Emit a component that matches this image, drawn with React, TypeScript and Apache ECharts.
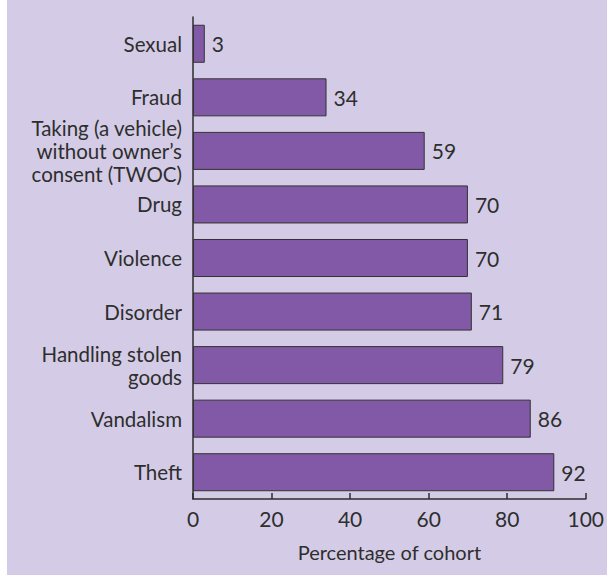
import React, { useEffect, useRef } from "react";
import * as echarts from "echarts";

const categories = [
  "Sexual",
  "Fraud",
  "Taking (a vehicle)\nwithout owner’s\nconsent (TWOC)",
  "Drug",
  "Violence",
  "Disorder",
  "Handling stolen\ngoods",
  "Vandalism",
  "Theft",
];
const values = [3, 34, 59, 70, 70, 71, 79, 86, 92];
const xTicks = [0, 20, 40, 60, 80, 100];

const FONT = "Lato";
const TEXT = "#2e2e2e";

export default function App() {
  const ref = useRef<HTMLDivElement>(null);
  useEffect(() => {
    const chart = echarts.init(ref.current!, null, { renderer: "svg" });
    chart.setOption({
      animation: false,
      backgroundColor: "#d4cce6",
      grid: { left: 186, right: 21, top: 17, bottom: 76, containLabel: false },
      xAxis: {
        type: "value",
        min: xTicks[0],
        max: xTicks[xTicks.length - 1],
        interval: 20,
        name: "Percentage of cohort",
        nameLocation: "middle",
        nameGap: 43,
        nameTextStyle: { fontFamily: FONT, fontSize: 20, color: TEXT },
        axisLine: { show: true, lineStyle: { color: TEXT, width: 1.5 } },
        axisTick: { show: true, inside: true, length: 6, lineStyle: { color: TEXT, width: 1.5 } },
        axisLabel: { fontFamily: FONT, fontSize: 21, color: TEXT, margin: 9 },
        splitLine: { show: false },
      },
      yAxis: {
        type: "category",
        data: categories,
        inverse: true,
        axisLine: { show: true, lineStyle: { color: TEXT, width: 1.5 } },
        axisTick: { show: false },
        axisLabel: {
          fontFamily: FONT,
          fontSize: 20.5,
          color: TEXT,
          margin: 11,
          lineHeight: 23,
          align: "right",
        },
      },
      series: [
        {
          type: "bar",
          data: values,
          barCategoryGap: "29%",
          itemStyle: { color: "#8159a6", borderColor: "#333", borderWidth: 1 },
          label: {
            show: true,
            position: "right",
            distance: 7,
            fontFamily: FONT,
            fontSize: 21,
            color: TEXT,
          },
        },
      ],
    });
    return () => chart.dispose();
  }, []);
  return (
    <div style={{ position: "fixed", left: 0, top: 0, width: 607, height: 575, background: "#ffffff" }}>
      <div ref={ref} style={{ position: "absolute", left: 7, top: 0, width: 600, height: 575 }} />
    </div>
  );
}
